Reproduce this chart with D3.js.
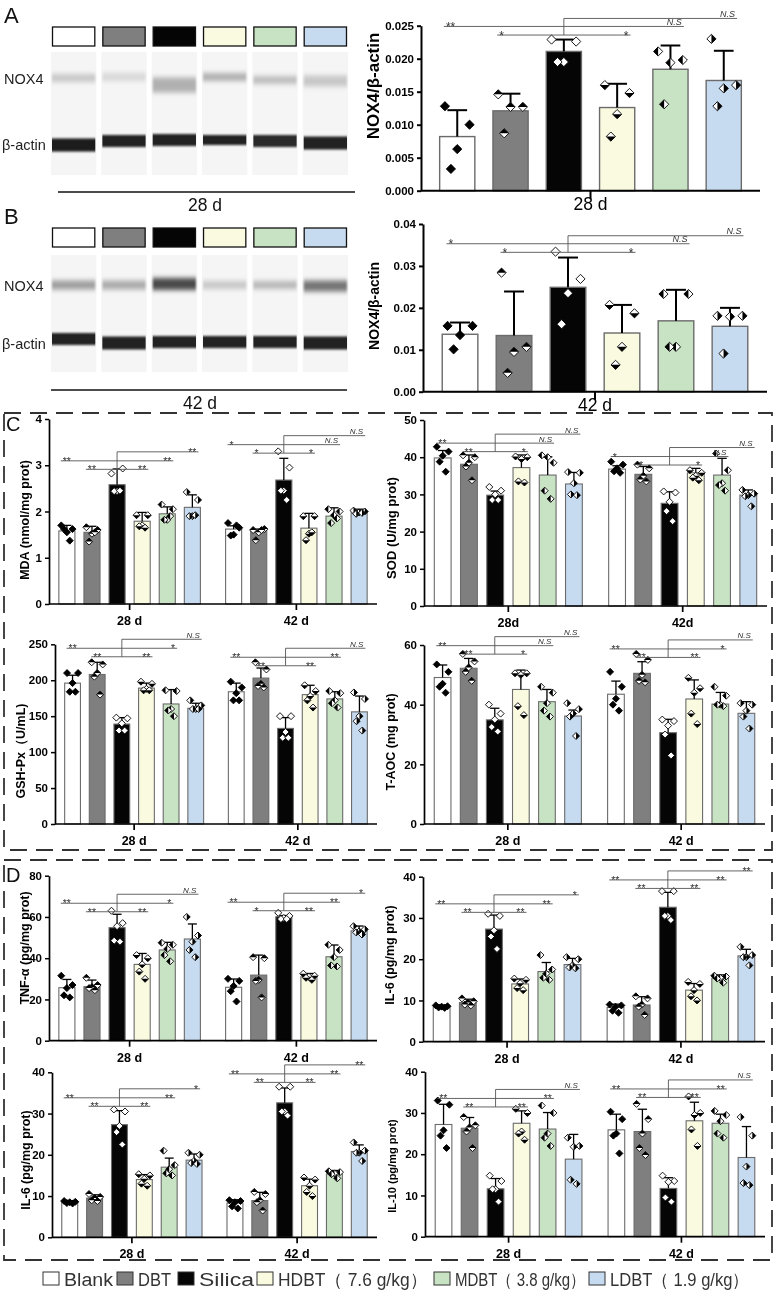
<!DOCTYPE html>
<html>
<head>
<meta charset="utf-8">
<script src="https://cdn.jsdelivr.net/npm/d3@7"></script>
<style>
body { margin: 0; background: #fff; }
svg { display: block; will-change: transform; }
</style>
</head>
<body>
<div id="fig"></div>
<script>
// ------------------------------------------------------
// Size of the figure
const width = 775
const height = 1292
const FONT = 'Liberation Sans, Arial, Helvetica, sans-serif'

// ------------------------------------------------------
// Groups and their colours
const groupNames = ['Blank', 'DBT', 'Silica', 'HDBT（ 7.6 g/kg）', 'MDBT（ 3.8 g/kg）', 'LDBT（ 1.9 g/kg）']
const groupColors = ['#ffffff', '#7f7f7f', '#050505', '#fafae0', '#c8e3c3', '#c6daf0']
const pointKinds = ['full', 'top', 'none', 'bottom', 'left', 'right']
const days = ['28 d', '42 d']
const daysSOD = ['28d', '42d']

// ------------------------------------------------------
// Western blot band intensities (0 = blank, 1 = black)
const nox4A = [0.2, 0.13, 0.3, 0.3, 0.24, 0.2]
const actinA = [0.93, 0.9, 0.9, 0.9, 0.88, 0.92]
const nox4B = [0.38, 0.32, 0.74, 0.2, 0.27, 0.56]
const actinB = [0.92, 0.92, 0.9, 0.9, 0.9, 0.92]

// ------------------------------------------------------
// NOX4/β-actin (A: 28 d, B: 42 d)
const noxAMean = [[0.0082, 0.0121, 0.0211, 0.0126, 0.0184, 0.0167]]
const noxASd = [[0.0040, 0.0026, 0.0018, 0.0036, 0.0036, 0.0045]]
const noxAPts = [[
  [0.0128, 0.0100, 0.0063, 0.0033], [0.0146, 0.0127, 0.0127, 0.0087], [0.0229, 0.0226, 0.0195, 0.0195],
  [0.0160, 0.0148, 0.0116, 0.0082], [0.0211, 0.0198, 0.0194, 0.0131], [0.0230, 0.0160, 0.0155, 0.0128]
]]
const noxASig = [['**', '*', null, '*', 'N.S', 'N.S']]

const noxBMean = [[0.0137, 0.0134, 0.0249, 0.0140, 0.0169, 0.0156]]
const noxBSd = [[0.0028, 0.0105, 0.0071, 0.0067, 0.0074, 0.0044]]
const noxBPts = [[
  [0.0157, 0.0157, 0.0135, 0.0101], [0.0284, 0.0107, 0.0095, 0.0045], [0.0334, 0.0269, 0.0235, 0.0161],
  [0.0207, 0.0187, 0.0107, 0.0064], [0.0233, 0.0233, 0.0107, 0.0107], [0.0181, 0.0181, 0.0179, 0.0091]
]]
const noxBSig = [['*', '*', null, '*', 'N.S', 'N.S']]

// ------------------------------------------------------
// C: oxidative stress markers (28 d, 42 d)
const mdaMean = [[1.58, 1.55, 2.58, 1.79, 1.95, 2.09], [1.62, 1.59, 2.68, 1.64, 1.90, 1.97]]
const mdaSd = [[0.12, 0.13, 0.34, 0.19, 0.15, 0.27], [0.07, 0.03, 0.47, 0.32, 0.18, 0.08]]
const mdaPts = [
  [[1.70, 1.62, 1.55, 1.62, 1.37], [1.66, 1.60, 1.52, 1.35, 1.55], [2.82, 2.93, 2.44, 2.44, 2.45], [1.92, 1.92, 1.70, 1.68, 1.65], [2.15, 2.05, 1.82, 1.82, 1.90], [2.42, 2.25, 1.90, 1.90, 1.92]],
  [[1.75, 1.65, 1.50, 1.48, 1.70], [1.60, 1.62, 1.55, 1.38, 1.60], [3.30, 2.95, 2.45, 2.45, 2.25], [1.90, 1.90, 1.52, 1.38, 1.55], [2.05, 2.00, 1.92, 1.75, 1.85], [2.02, 2.00, 1.98, 1.95, 1.97]]
]
const mdaSig = [['**', '**', null, '**', '**', '**'], ['*', '*', null, '*', 'N.S', 'N.S']]

const sodMean = [[39.8, 38.1, 29.8, 37.2, 35.2, 32.8], [36.8, 35.4, 27.6, 35.8, 35.2, 29.8]]
const sodSd = [[2.0, 2.5, 1.1, 3.4, 4.9, 3.1], [0.9, 2.1, 3.1, 1.2, 4.5, 1.4]]
const sodPts = [
  [[42.8, 41.5, 40.4, 38.8, 36.1], [40.5, 40.0, 38.5, 37.5, 33.8], [32.0, 31.0, 30.0, 28.5, 28.5], [40.2, 40.0, 39.5, 33.5, 33.2], [40.5, 38.5, 40.0, 31.0, 28.8], [36.0, 35.8, 33.0, 30.0, 29.8]],
  [[38.8, 38.0, 37.0, 36.2, 35.8], [38.0, 37.0, 35.0, 34.0, 33.5], [30.8, 30.5, 28.0, 25.5, 22.8], [36.5, 35.8, 35.0, 34.5, 33.8], [41.0, 36.5, 33.0, 32.5, 31.0], [31.2, 30.2, 29.8, 29.5, 26.8]]
]
const sodSig = [['**', '**', null, '*', 'N.S', 'N.S'], ['*', '*', null, '*', 'N.S', 'N.S']]

const gshMean = [[196, 208, 139, 189, 167, 161], [184, 203, 133, 180, 174, 156]]
const gshSd = [[11, 17, 9, 7, 20, 7], [12, 14, 15, 13, 10, 22]]
const gshPts = [
  [[210, 210, 196, 184, 184], [225, 222, 210, 205, 180], [148, 147, 140, 130, 130], [198, 195, 188, 186, 186], [186, 185, 160, 158, 150], [172, 165, 160, 160, 160]],
  [[198, 190, 182, 172, 172], [225, 215, 195, 192, 190], [150, 150, 128, 120, 120], [193, 185, 178, 172, 162], [185, 182, 172, 168, 162], [183, 174, 150, 143, 130]]
]
const gshSig = [['**', '**', null, '**', '*', 'N.S'], ['**', '**', null, '**', '**', 'N.S']]

const taocMean = [[49.1, 52.2, 34.9, 45.1, 41.0, 36.2], [43.5, 50.5, 30.6, 41.9, 40.2, 37.1]]
const taocSd = [[4.2, 3.3, 3.9, 6.5, 4.1, 2.0], [4.4, 3.9, 4.5, 6.4, 3.9, 3.9]]
const taocPts = [
  [[53.5, 51.0, 47.0, 46.0, 44.0], [57.0, 54.5, 52.5, 51.0, 48.0], [40.0, 37.0, 35.0, 32.5, 31.0], [50.5, 50.5, 50.0, 39.5, 36.5], [46.0, 44.0, 40.5, 38.0, 36.0], [40.5, 38.5, 37.0, 36.0, 29.5]],
  [[51.0, 46.0, 42.0, 40.0, 38.0], [57.0, 55.0, 50.0, 48.0, 47.5], [35.0, 34.5, 33.0, 30.0, 23.0], [49.0, 45.5, 44.0, 37.0, 33.5], [46.0, 43.0, 40.0, 40.0, 39.5], [40.5, 40.0, 38.0, 36.0, 32.0]]
]
const taocSig = [['**', '**', null, '*', 'N.S', 'N.S'], ['**', '**', null, '**', '*', 'N.S']]

// ------------------------------------------------------
// D: inflammatory cytokines (28 d, 42 d)
const tnfMean = [[25.7, 26.2, 54.8, 37.0, 44.0, 49.3], [25.9, 31.8, 60.1, 31.0, 40.7, 53.3]]
const tnfSd = [[4.0, 3.2, 6.5, 5.3, 3.7, 7.3], [4.0, 9.7, 0.6, 1.6, 5.7, 2.3]]
const tnfPts = [
  [[31.5, 27.0, 25.5, 22.0, 21.0], [30.5, 27.0, 26.0, 25.5, 24.5], [63.0, 57.0, 55.5, 48.5, 48.0], [41.5, 40.0, 37.0, 33.5, 30.0], [47.5, 46.5, 44.5, 41.5, 38.5], [60.0, 51.0, 48.0, 44.0, 40.5]],
  [[30.0, 29.0, 26.5, 24.0, 19.0], [40.5, 40.0, 29.5, 29.0, 21.0], [62.0, 60.5, 59.5, 59.0, 59.0], [32.5, 31.5, 31.0, 30.5, 29.5], [46.5, 44.0, 40.5, 36.5, 36.0], [55.5, 54.0, 53.0, 52.5, 51.5]]
]
const tnfSig = [['**', '**', null, '**', '*', 'N.S'], ['**', '*', null, '**', '**', '*']]

const il6Mean = [[8.5, 9.5, 27.3, 14.0, 17.0, 18.7], [8.3, 8.9, 32.6, 12.5, 15.4, 20.8]]
const il6Sd = [[0.4, 0.8, 3.4, 1.2, 2.2, 1.5], [0.8, 2.0, 3.6, 1.6, 0.8, 1.6]]
const il6Pts = [
  [[8.8, 8.6, 8.5, 8.3, 8.2], [10.5, 9.8, 9.5, 9.0, 8.8], [31.0, 30.5, 27.0, 25.5, 22.5], [15.3, 15.0, 14.2, 13.0, 12.5], [21.0, 17.5, 16.5, 15.5, 15.0], [20.5, 20.0, 18.5, 18.0, 17.8]],
  [[9.0, 8.8, 8.5, 7.5, 7.0], [11.0, 10.5, 9.0, 8.5, 6.5], [36.5, 36.5, 30.5, 30.5, 29.5], [14.5, 14.0, 12.5, 11.0, 10.0], [16.0, 15.8, 15.5, 15.3, 14.3], [23.0, 21.0, 20.5, 20.5, 18.5]]
]
const il6Sig = [['**', '**', null, '**', '**', '*'], ['**', '**', null, '**', '**', '**']]

const il10Mean = [[27.2, 26.3, 11.6, 27.5, 26.1, 18.8], [25.9, 25.5, 11.7, 28.1, 27.5, 19.2]]
const il10Sd = [[4.9, 2.6, 2.5, 3.0, 4.0, 6.0], [3.8, 5.4, 2.6, 4.5, 2.2, 7.5]]
const il10Pts = [
  [[33.0, 32.0, 25.8, 24.5, 21.5], [29.0, 27.0, 26.5, 25.5, 21.5], [14.8, 13.5, 11.5, 11.5, 8.5], [31.0, 30.0, 25.5, 25.0, 23.5], [31.8, 30.0, 25.0, 24.0, 22.0], [24.0, 22.0, 21.8, 13.8, 12.8]],
  [[30.3, 28.5, 25.0, 24.5, 20.2], [32.2, 28.5, 25.0, 21.5, 19.8], [14.8, 13.5, 13.3, 9.5, 8.5], [34.0, 30.0, 29.5, 26.0, 22.0], [30.5, 29.5, 28.0, 25.0, 24.0], [29.0, 24.5, 17.0, 13.0, 12.5]]
]
const il10Sig = [['**', '**', null, '**', '**', 'N.S'], ['**', '**', null, '**', '**', 'N.S']]

// horizontal spread of the dots inside a bar (fraction of bar width)
const jitter = [-0.35, 0.35, 0, -0.18, 0.18]


// ------------------------------------------------------
// svg
const svg = d3.select('#fig')
  .append('svg')
  .attr('width', width)
  .attr('height', height)
  .attr('font-family', FONT)

svg.append('rect').attr('width', width).attr('height', height).attr('fill', '#fff')

const defs = svg.append('defs')
defs.append('filter').attr('id', 'noxBlur')
  .attr('x', '-10%').attr('y', '-150%').attr('width', '120%').attr('height', '400%')
  .append('feGaussianBlur').attr('stdDeviation', '0.8 2.4')
defs.append('filter').attr('id', 'actinBlur')
  .attr('x', '-10%').attr('y', '-100%').attr('width', '120%').attr('height', '300%')
  .append('feGaussianBlur').attr('stdDeviation', '0.7 1.3')


// ------------------------------------------------------
// Western blot panels
function drawBlot(b, nox, actin) {
  const lane = d3.scaleBand().domain(d3.range(6)).range([51, 348]).paddingInner(0.1)
  const g = svg.append('g')
  const shade = d3.interpolateRgb('#f6f6f6', '#0d0d0d')

  g.append('text').text(b.letter).attr('x', 4).attr('y', b.swatchY - 4)
    .attr('font-size', 22).attr('fill', '#111')

  // colour key boxes
  g.selectAll('rect.sw').data(groupColors).join('rect')
    .attr('class', 'sw')
    .attr('x', (d, i) => lane(i) + 1.5)
    .attr('y', b.swatchY)
    .attr('width', lane.bandwidth() - 3)
    .attr('height', 19)
    .attr('fill', d => d)
    .attr('stroke', '#111')
    .attr('stroke-width', 1.3)

  // lanes
  g.selectAll('rect.lane').data(d3.range(6)).join('rect')
    .attr('class', 'lane')
    .attr('x', i => lane(i))
    .attr('y', b.laneTop)
    .attr('width', lane.bandwidth())
    .attr('height', b.laneBottom - b.laneTop)
    .attr('fill', '#f5f5f5')

  g.selectAll('rect.nox').data(nox).join('rect')
    .attr('class', 'nox')
    .attr('x', (d, i) => lane(i) + 1)
    .attr('width', lane.bandwidth() - 2)
    .attr('y', (d, i) => b.noxY[i] - b.noxH[i] / 2)
    .attr('height', (d, i) => b.noxH[i])
    .attr('fill', d => shade(d))
    .attr('filter', 'url(#noxBlur)')

  g.selectAll('rect.actin').data(actin).join('rect')
    .attr('class', 'actin')
    .attr('x', (d, i) => lane(i) + 1)
    .attr('width', lane.bandwidth() - 2)
    .attr('y', (d, i) => b.actinY[i] - b.actinH[i] / 2)
    .attr('height', (d, i) => b.actinH[i])
    .attr('fill', d => shade(d))
    .attr('filter', 'url(#actinBlur)')

  g.append('text').text('NOX4').attr('x', 4).attr('y', b.noxLabelY)
    .attr('font-size', 14.5).attr('fill', '#222')
  g.append('text').text('β-actin').attr('x', 2).attr('y', b.actinLabelY)
    .attr('font-size', 14.5).attr('fill', '#222')

  g.append('line')
    .attr('x1', b.lineX[0]).attr('x2', b.lineX[1])
    .attr('y1', b.lineY).attr('y2', b.lineY)
    .attr('stroke', '#111').attr('stroke-width', 1.3)
  g.append('text').text(b.day)
    .attr('x', b.dayX).attr('y', b.dayY)
    .attr('text-anchor', 'middle').attr('font-size', 17.5).attr('fill', '#111')
}

drawBlot({
  letter: 'A', swatchY: 27, laneTop: 52, laneBottom: 175,
  noxY: [78, 77, 85, 77, 80, 81], noxH: [8, 8, 15, 8, 8, 11],
  actinY: [145, 141, 140, 140, 141, 143], actinH: [13, 12, 12, 10, 12, 13],
  noxLabelY: 84, actinLabelY: 150, lineY: 192, lineX: [58, 355],
  day: '28 d', dayX: 205, dayY: 211
}, nox4A, actinA)

drawBlot({
  letter: 'B', swatchY: 228, laneTop: 255, laneBottom: 372,
  noxY: [285, 285, 284, 285, 285, 286], noxH: [9, 9, 12, 8, 8, 11],
  actinY: [339, 343, 342, 342, 342, 343], actinH: [12, 13, 12, 12, 12, 13],
  noxLabelY: 291, actinLabelY: 349, lineY: 390, lineX: [51, 347],
  day: '42 d', dayX: 200, dayY: 409
}, nox4B, actinB)


// ------------------------------------------------------
// A diamond dot, fully or half filled
function diamond(sel, cx, cy, r, kind) {
  const p = [[cx, cy - r], [cx + r, cy], [cx, cy + r], [cx - r, cy]]
  sel.append('path')
    .attr('d', 'M' + p.join('L') + 'Z')
    .attr('fill', kind === 'full' ? '#000' : '#fff')
    .attr('stroke', '#000')
    .attr('stroke-width', 0.9)
  let half = null
  if (kind === 'top') half = [p[3], p[0], p[1]]
  if (kind === 'bottom') half = [p[3], p[2], p[1]]
  if (kind === 'left') half = [p[0], p[3], p[2]]
  if (kind === 'right') half = [p[0], p[1], p[2]]
  if (half) sel.append('path').attr('d', 'M' + half.join('L') + 'Z').attr('fill', '#000')
}


// ------------------------------------------------------
// Bar chart with SD, dots and significance brackets
function drawChart(c, mean, sd, pts, sig) {
  const big = !!c.big
  const y = d3.scaleLinear().domain([0, c.ymax]).range([c.bottom, c.top])
  const gx = d3.scaleBand()
    .domain(c.cats)
    .range([c.left, c.right])
    .paddingInner(c.cats.length > 1 ? 0.097 : 0)
    .paddingOuter(c.padOut || 0.032)
  const bx = d3.scaleBand()
    .domain(d3.range(groupNames.length))
    .range([0, gx.bandwidth()])
    .paddingInner(c.barPad)
    .paddingOuter(c.barPad / 2)
  const bw = bx.bandwidth()
  const g = svg.append('g')

  // y axis
  const ya = g.append('g')
    .attr('transform', `translate(${c.left},0)`)
    .call(d3.axisLeft(y)
      .tickValues(d3.range(0, c.ymax + c.step / 2, c.step))
      .tickFormat(d3.format(c.fmt || 'd'))
      .tickSize(4)
      .tickSizeOuter(0)
      .tickPadding(3))
  ya.attr('font-family', FONT).attr('font-size', 11.5).attr('font-weight', 'bold')
  ya.select('.domain').attr('stroke', '#000').attr('stroke-width', big ? 2 : 1.7)
  ya.selectAll('.tick line').attr('stroke', '#000').attr('stroke-width', big ? 2 : 1.5)
  ya.selectAll('.tick text').attr('fill', '#000')

  g.append('text').text(c.ylabel)
    .attr('transform', `translate(${c.lx},${c.ly}) rotate(-90)`)
    .attr('text-anchor', 'middle')
    .attr('dominant-baseline', 'central')
    .attr('font-size', c.labelSize || 12.5)
    .attr('font-weight', 'bold')
    .attr('fill', '#000')

  c.cats.forEach((cat, gi) => {
    const gg = g.append('g').attr('transform', `translate(${gx(cat)},0)`)
    const cx = i => bx(i) + bw / 2

    // bars
    gg.selectAll('rect').data(mean[gi]).join('rect')
      .attr('x', (d, i) => bx(i))
      .attr('y', d => y(d))
      .attr('width', bw)
      .attr('height', d => c.bottom - y(d))
      .attr('fill', (d, i) => groupColors[i])
      .attr('stroke', '#6b6b6b')
      .attr('stroke-width', big ? 1.4 : 1.1)

    // SD (upper only)
    const eg = gg.append('g').attr('stroke', '#000').attr('stroke-width', big ? 2 : 1.3)
    mean[gi].forEach((m, i) => {
      const top = y(m + sd[gi][i])
      eg.append('line').attr('x1', cx(i)).attr('x2', cx(i)).attr('y1', y(m)).attr('y2', top)
      eg.append('line').attr('x1', cx(i) - bw * 0.28).attr('x2', cx(i) + bw * 0.28).attr('y1', top).attr('y2', top)
    })

    // dots
    pts[gi].forEach((arr, i) => arr.forEach((v, k) => {
      diamond(gg, cx(i) + jitter[k % jitter.length] * bw, y(v), big ? 4.6 : 3.5, pointKinds[i])
    }))

    // significance brackets, Silica against every group
    const L = i => bx(i) + bw * 0.12
    const R = i => bx(i) + bw * 0.88
    const y0 = y(c.sigTop[gi])
    const y1 = y0 + (big ? 8 : 9)
    const y2 = y1 + (big ? 8.6 : 8.5)
    const sg = gg.append('g').attr('stroke', '#555').attr('stroke-width', 0.9)
    sg.append('line').attr('x1', cx(2)).attr('x2', R(5)).attr('y1', y0).attr('y2', y0)
    sg.append('line').attr('x1', L(0)).attr('x2', R(4)).attr('y1', y1).attr('y2', y1)
    sg.append('line').attr('x1', L(1)).attr('x2', R(3)).attr('y1', y2).attr('y2', y2)
    sg.append('line').attr('x1', cx(2)).attr('x2', cx(2)).attr('y1', y0).attr('y2', y2)

    const marks = [
      { i: 0, x: L(0) + 2, y: y1, anchor: 'start' },
      { i: 1, x: L(1) + 2, y: y2, anchor: 'start' },
      { i: 3, x: R(3) - 2, y: y2, anchor: 'end' },
      { i: 4, x: R(4) - 2, y: y1, anchor: 'end' },
      { i: 5, x: R(5) - 2, y: y0, anchor: 'end' }
    ]
    marks.forEach(m => {
      const s = sig[gi][m.i]
      if (!s) return
      const ns = s === 'N.S'
      gg.append('text').text(s)
        .attr('x', m.x)
        .attr('y', ns ? m.y - 1.5 : m.y + (big ? 4.5 : 4))
        .attr('text-anchor', m.anchor)
        .attr('font-size', ns ? (big ? 9 : 8) : (big ? 12 : 10.5))
        .attr('font-style', ns ? 'italic' : 'normal')
        .attr('fill', '#333')
    })
  })

  // x axis with a tick per time point
  g.append('line')
    .attr('x1', c.left).attr('x2', c.right)
    .attr('y1', c.bottom).attr('y2', c.bottom)
    .attr('stroke', '#000').attr('stroke-width', big ? 2 : 1.7)
  c.cats.forEach(cat => {
    const mx = gx(cat) + gx.bandwidth() / 2
    g.append('line')
      .attr('x1', mx).attr('x2', mx)
      .attr('y1', c.bottom).attr('y2', c.bottom + (big ? 8 : 6))
      .attr('stroke', '#000').attr('stroke-width', big ? 2 : 1.7)
    g.append('text').text(cat)
      .attr('x', mx)
      .attr('y', c.bottom + (big ? 19 : 21))
      .attr('text-anchor', 'middle')
      .attr('font-size', big ? 17.5 : 12.5)
      .attr('font-weight', big ? 'normal' : 'bold')
      .attr('fill', '#000')
  })
}

// A, B
drawChart({ big: true, cats: ['28 d'], left: 421, right: 760, top: 25.7, bottom: 190.7,
  ymax: 0.025, step: 0.005, fmt: '.3f', ylabel: 'NOX4/β-actin', lx: 373, ly: 86, labelSize: 17,
  padOut: 0.03, barPad: 0.34, sigTop: [0.0261] }, noxAMean, noxASd, noxAPts, noxASig)
drawChart({ big: true, cats: ['42 d'], left: 423, right: 767, top: 224, bottom: 391.7,
  ymax: 0.04, step: 0.01, fmt: '.2f', ylabel: 'NOX4/β-actin', lx: 374, ly: 306, labelSize: 14,
  padOut: 0.031, barPad: 0.34, sigTop: [0.0372] }, noxBMean, noxBSd, noxBPts, noxBSig)

// C
drawChart({ cats: days, left: 49, right: 377, top: 419, bottom: 604, ymax: 4, step: 1,
  ylabel: 'MDA (nmol/mg prot)', lx: 25, ly: 520, barPad: 0.36, sigTop: [3.29, 3.64] },
  mdaMean, mdaSd, mdaPts, mdaSig)
drawChart({ cats: daysSOD, left: 424, right: 767, top: 420, bottom: 606, ymax: 50, step: 10,
  ylabel: 'SOD (U/mg prot)', lx: 391, ly: 528, labelSize: 13, barPad: 0.36, sigTop: [46.2, 42.6] },
  sodMean, sodSd, sodPts, sodSig)
drawChart({ cats: days, left: 55, right: 377, top: 644.3, bottom: 824, ymax: 250, step: 50,
  ylabel: 'GSH-Px（U/mL)', lx: 21, ly: 751, barPad: 0.36, sigTop: [257, 244.5] },
  gshMean, gshSd, gshPts, gshSig)
drawChart({ cats: days, left: 424, right: 765, top: 645, bottom: 824, ymax: 60, step: 20,
  ylabel: 'T-AOC (mg prot)', lx: 391, ly: 742, barPad: 0.36, sigTop: [62.8, 61.7] },
  taocMean, taocSd, taocPts, taocSig)

// D
drawChart({ cats: days, left: 49, right: 377, top: 875.7, bottom: 1040.7, ymax: 80, step: 20,
  ylabel: 'TNF-α (pg/mg prot)', lx: 25, ly: 948, barPad: 0.36, sigTop: [71.0, 71.5] },
  tnfMean, tnfSd, tnfPts, tnfSig)
drawChart({ cats: days, left: 423, right: 765, top: 876.7, bottom: 1041.7, ymax: 40, step: 10,
  ylabel: 'IL-6 (pg/mg prot)', lx: 390, ly: 955, barPad: 0.36, sigTop: [35.6, 41.4] },
  il6Mean, il6Sd, il6Pts, il6Sig)
drawChart({ cats: days, left: 52, right: 377, top: 1072.3, bottom: 1237.3, ymax: 40, step: 10,
  ylabel: 'IL-6 (pg/mg prot)', lx: 26, ly: 1160, barPad: 0.36, sigTop: [36.0, 41.8] },
  il6Mean, il6Sd, il6Pts, il6Sig)
drawChart({ cats: days, left: 425, right: 765, top: 1071.7, bottom: 1236.7, ymax: 40, step: 10,
  ylabel: 'IL-10 (pg/mg prot)', lx: 392, ly: 1166, labelSize: 11, barPad: 0.36, sigTop: [35.7, 38.0] },
  il10Mean, il10Sd, il10Pts, il10Sig)


// ------------------------------------------------------
// Dashed frames round C and D
const frames = [
  { letter: 'C', x: 4, y: 413, w: 768, h: 437, ly: 431 },
  { letter: 'D', x: 4, y: 860, w: 768, h: 400, ly: 882 }
]
frames.forEach(f => {
  svg.append('rect')
    .attr('x', f.x).attr('y', f.y).attr('width', f.w).attr('height', f.h)
    .attr('fill', 'none')
    .attr('stroke', '#333')
    .attr('stroke-width', 1.8)
    .attr('stroke-dasharray', '17,9')
  svg.append('text').text(f.letter)
    .attr('x', 6).attr('y', f.ly)
    .attr('font-size', 20).attr('fill', '#111')
})


// ------------------------------------------------------
// Legend (item places and label widths as in the original)
const legendX = [43, 117, 178, 257, 434, 589]
const legendW = [49, 33, 55, 149, 130, 139]
const legend = svg.append('g').attr('transform', 'translate(0,1272)')
const items = legend.selectAll('g').data(groupNames).join('g')
  .attr('transform', (d, i) => `translate(${legendX[i]},0)`)
items.append('rect')
  .attr('width', 16).attr('height', 13)
  .attr('fill', (d, i) => groupColors[i])
  .attr('stroke', '#333').attr('stroke-width', 1)
items.append('text')
  .text(d => d)
  .attr('x', 21).attr('y', 13.5)
  .attr('font-size', 18)
  .attr('textLength', (d, i) => legendW[i])
  .attr('lengthAdjust', 'spacingAndGlyphs')
  .attr('fill', '#333')
</script>
</body>
</html>
